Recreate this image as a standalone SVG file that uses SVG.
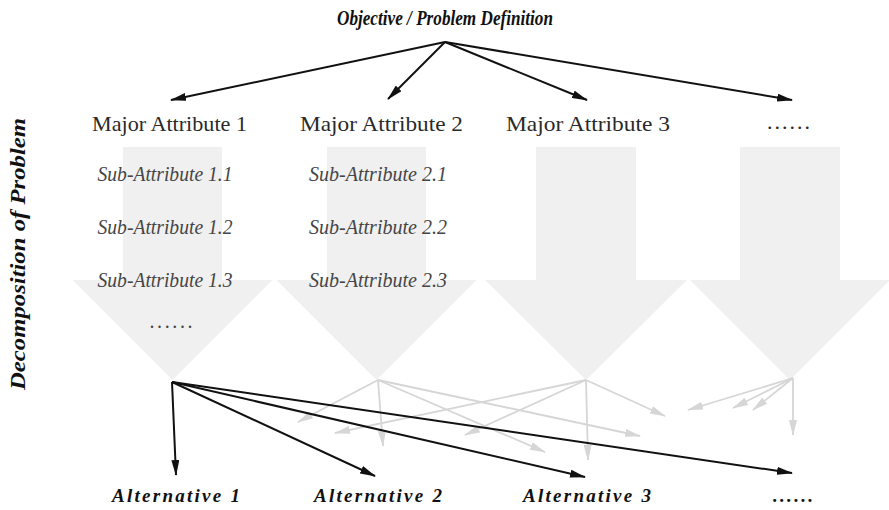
<svg xmlns="http://www.w3.org/2000/svg" width="889" height="510" viewBox="0 0 889 510">
  <style>
    .title { font-family: "Liberation Serif", "DejaVu Serif", serif; font-weight: bold; font-style: italic; font-size: 20px; fill: #111; }
    .major { font-family: "Liberation Serif", "DejaVu Serif", serif; font-size: 22px; fill: #2a2a2a; text-anchor: middle; }
    .sub { font-family: "Liberation Serif", "DejaVu Serif", serif; font-style: italic; font-size: 20px; fill: #454545; text-anchor: middle; }
    .alt { font-family: "Liberation Serif", "DejaVu Serif", serif; font-weight: bold; font-style: italic; font-size: 19px; fill: #111; text-anchor: middle; }
    .block { fill: #f0f0f0; }
    .dark { stroke: #111; stroke-width: 2; fill: none; marker-end: url(#headDark); }
    .light { stroke: #d6d6d6; stroke-width: 1.8; fill: none; marker-end: url(#headLight); }
  </style>
  <defs>
    <marker id="headDark" viewBox="0 0 16 8" refX="15" refY="4" markerWidth="16" markerHeight="8" markerUnits="userSpaceOnUse" orient="auto">
      <path d="M0,0 L16,4 L0,8 Z" fill="#111"/>
    </marker>
    <marker id="headLight" viewBox="0 0 16 8" refX="15" refY="4" markerWidth="16" markerHeight="8" markerUnits="userSpaceOnUse" orient="auto">
      <path d="M0,0 L16,4 L0,8 Z" fill="#d6d6d6"/>
    </marker>
  </defs>

  <rect width="889" height="510" fill="#ffffff"/>

  <!-- broad decomposition arrows behind each column -->
  <g id="decomposition-arrows">
    <path class="block" d="M123,147 H222 V280 H272.5 L172.5,380 L72.5,280 H123 Z"/>
    <path class="block" d="M327,147 H426 V280 H476.5 L376.5,380 L276.5,280 H327 Z"/>
    <path class="block" d="M536,147 H636 V280 H687 L586,380 L485,280 H536 Z"/>
    <path class="block" d="M740,147 H840 V280 H890 L790,380 L690,280 H740 Z"/>
  </g>

  <!-- side label -->
  <g id="axis-label">
    <text class="title" font-size="21" transform="translate(25,254) rotate(-90)" text-anchor="middle" textLength="272" lengthAdjust="spacingAndGlyphs">Decomposition of Problem</text>
  </g>

  <!-- connectors -->
  <g id="connectors">
    <!-- objective to major attributes -->
    <line class="dark" x1="445" y1="42" x2="171" y2="100"/>
    <line class="dark" x1="445" y1="42" x2="388" y2="99"/>
    <line class="dark" x1="445" y1="42" x2="587" y2="100"/>
    <line class="dark" x1="445" y1="42" x2="792" y2="100"/>

    <!-- faded links from attributes 2..4 to alternatives -->
    <line class="light" x1="378" y1="380" x2="298" y2="422"/>
    <line class="light" x1="378" y1="380" x2="383" y2="446"/>
    <line class="light" x1="378" y1="380" x2="545" y2="452"/>
    <line class="light" x1="378" y1="380" x2="640" y2="436"/>

    <line class="light" x1="586" y1="380" x2="335" y2="433"/>
    <line class="light" x1="586" y1="380" x2="465" y2="435"/>
    <line class="light" x1="586" y1="380" x2="588" y2="460"/>
    <line class="light" x1="586" y1="380" x2="665" y2="416"/>

    <line class="light" x1="793" y1="378" x2="688" y2="410"/>
    <line class="light" x1="793" y1="378" x2="733" y2="408"/>
    <line class="light" x1="793" y1="378" x2="753" y2="410"/>
    <line class="light" x1="793" y1="378" x2="793" y2="435"/>

    <!-- links from attribute 1 to alternatives -->
    <line class="dark" x1="172" y1="382" x2="176" y2="475"/>
    <line class="dark" x1="172" y1="382" x2="375" y2="476"/>
    <line class="dark" x1="172" y1="382" x2="585" y2="477"/>
    <line class="dark" x1="172" y1="382" x2="792" y2="473"/>
  </g>

  <g id="objective">
    <text class="title" x="445" y="25" text-anchor="middle" textLength="216" lengthAdjust="spacingAndGlyphs">Objective / Problem Definition</text>
  </g>

  <g id="attribute-1">
    <text class="major" x="169.5" y="131" textLength="155" lengthAdjust="spacingAndGlyphs">Major Attribute 1</text>
    <text class="sub" x="165" y="181" textLength="135" lengthAdjust="spacingAndGlyphs">Sub-Attribute 1.1</text>
    <text class="sub" x="165" y="234" textLength="135" lengthAdjust="spacingAndGlyphs">Sub-Attribute 1.2</text>
    <text class="sub" x="165" y="287" textLength="135" lengthAdjust="spacingAndGlyphs">Sub-Attribute 1.3</text>
    <text class="sub" x="171.5" y="328" textLength="43" lengthAdjust="spacing">......</text>
  </g>

  <g id="attribute-2">
    <text class="major" x="381.5" y="131" textLength="163" lengthAdjust="spacingAndGlyphs">Major Attribute 2</text>
    <text class="sub" x="378" y="181" textLength="138" lengthAdjust="spacingAndGlyphs">Sub-Attribute 2.1</text>
    <text class="sub" x="378" y="234" textLength="138" lengthAdjust="spacingAndGlyphs">Sub-Attribute 2.2</text>
    <text class="sub" x="378" y="287" textLength="138" lengthAdjust="spacingAndGlyphs">Sub-Attribute 2.3</text>
  </g>

  <g id="attribute-3">
    <text class="major" x="588" y="131" textLength="164" lengthAdjust="spacingAndGlyphs">Major Attribute 3</text>
  </g>

  <g id="attribute-more">
    <text class="major" x="788.5" y="129" textLength="43" lengthAdjust="spacing">......</text>
  </g>

  <g id="alternative-1">
    <text class="alt" x="176" y="502" textLength="128" lengthAdjust="spacing">Alternative 1</text>
  </g>
  <g id="alternative-2">
    <text class="alt" x="378" y="502" textLength="128" lengthAdjust="spacing">Alternative 2</text>
  </g>
  <g id="alternative-3">
    <text class="alt" x="587" y="502" textLength="128" lengthAdjust="spacing">Alternative 3</text>
  </g>
  <g id="alternative-more">
    <text class="alt" x="793" y="502" textLength="40" lengthAdjust="spacing">......</text>
  </g>
</svg>
